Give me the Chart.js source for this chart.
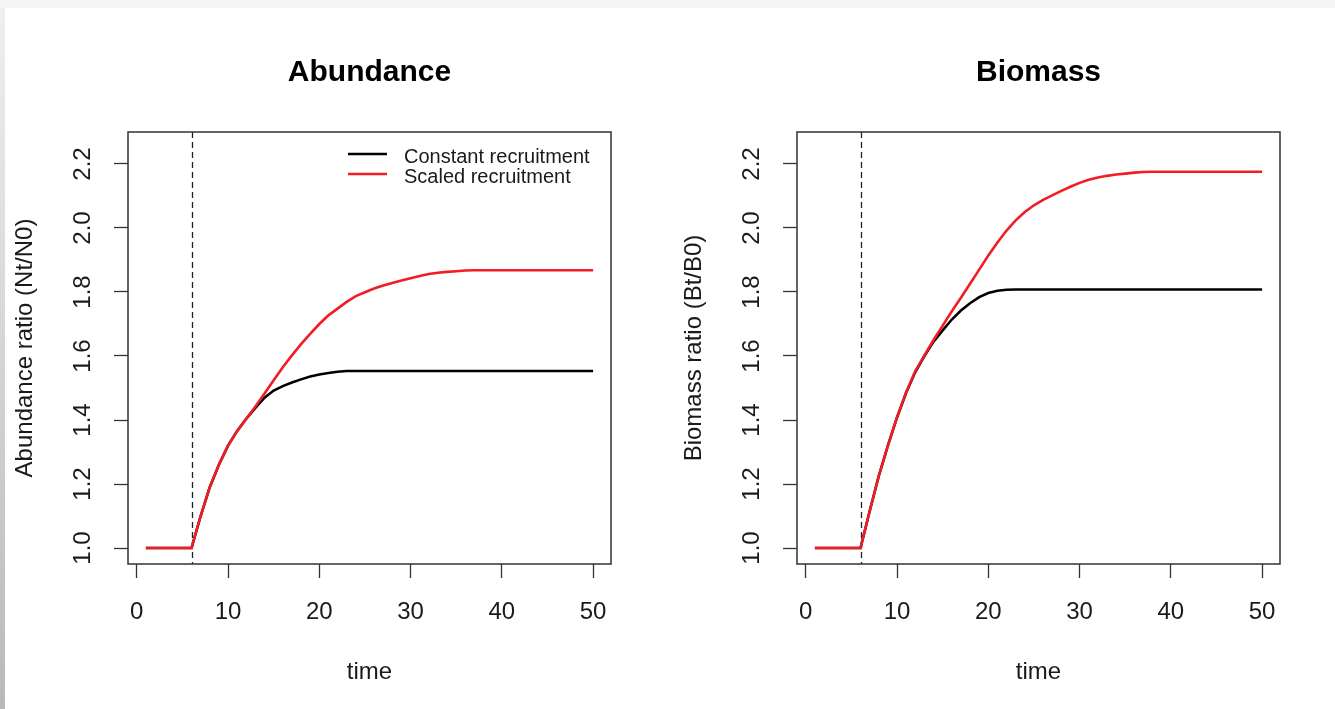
<!DOCTYPE html>
<html>
<head>
<meta charset="utf-8">
<script src="https://cdn.jsdelivr.net/npm/chart.js@4.4.1/dist/chart.umd.min.js"></script>
<style>
  html, body { margin: 0; padding: 0; }
  body { width: 1335px; height: 709px; position: relative; overflow: hidden; background: #f4f5f5; }
  #feuille { position: absolute; left: 5px; top: 8px; right: 0; bottom: 0; background: #fff; }
  #bord { position: absolute; left: 0; top: 8px; width: 5px; bottom: 0; background: linear-gradient(#eef0f0, #b9b9b9); }
  canvas { position: absolute; top: 0; }
  #abondance { left: 0; }
  #biomasse { left: 669px; }
</style>
</head>
<body>
<div id="feuille"></div><div id="bord"></div>
<canvas id="abondance" width="669" height="709"></canvas>
<canvas id="biomasse" width="666" height="709"></canvas>
<script>
// temps (années)
const time = [1, 2, 3, 4, 5, 6, 7, 8, 9, 10, 11, 12, 13, 14, 15, 16, 17, 18, 19, 20,
  21, 22, 23, 24, 25, 26, 27, 28, 29, 30, 31, 32, 33, 34, 35, 36, 37, 38, 39, 40,
  41, 42, 43, 44, 45, 46, 47, 48, 49, 50];

// Abondance (Nt/N0)
const abundConstant = [1, 1, 1, 1, 1, 1, 1.10, 1.19, 1.26, 1.32, 1.366, 1.404, 1.438, 1.470, 1.492, 1.506, 1.517, 1.527, 1.536, 1.542,
  1.547, 1.551, 1.553, 1.553, 1.553, 1.553, 1.553, 1.553, 1.553, 1.553, 1.553, 1.553, 1.553, 1.553, 1.553, 1.553, 1.553, 1.553, 1.553, 1.553,
  1.553, 1.553, 1.553, 1.553, 1.553, 1.553, 1.553, 1.553, 1.553, 1.553];
const abundScaled = [1, 1, 1, 1, 1, 1, 1.10, 1.19, 1.26, 1.32, 1.366, 1.404, 1.442, 1.483, 1.524, 1.565, 1.602, 1.637, 1.669, 1.700,
  1.727, 1.748, 1.769, 1.787, 1.799, 1.811, 1.820, 1.828, 1.836, 1.843, 1.850, 1.856, 1.860, 1.863, 1.865, 1.867, 1.868, 1.868, 1.868, 1.868,
  1.868, 1.868, 1.868, 1.868, 1.868, 1.868, 1.868, 1.868, 1.868, 1.868];

// Biomasse (Bt/B0)
const bioConstant = [1, 1, 1, 1, 1, 1, 1.115, 1.225, 1.320, 1.408, 1.485, 1.550, 1.600, 1.645, 1.680, 1.714, 1.742, 1.765, 1.784, 1.797,
  1.804, 1.807, 1.808, 1.808, 1.808, 1.808, 1.808, 1.808, 1.808, 1.808, 1.808, 1.808, 1.808, 1.808, 1.808, 1.808, 1.808, 1.808, 1.808, 1.808,
  1.808, 1.808, 1.808, 1.808, 1.808, 1.808, 1.808, 1.808, 1.808, 1.808];
const bioScaled = [1, 1, 1, 1, 1, 1, 1.115, 1.225, 1.320, 1.409, 1.487, 1.553, 1.602, 1.650, 1.695, 1.740, 1.782, 1.826, 1.870, 1.914,
  1.955, 1.992, 2.024, 2.050, 2.071, 2.088, 2.102, 2.116, 2.129, 2.141, 2.151, 2.158, 2.163, 2.167, 2.170, 2.173, 2.175, 2.176, 2.176, 2.176,
  2.176, 2.176, 2.176, 2.176, 2.176, 2.176, 2.176, 2.176, 2.176, 2.176];

const seriesLabels = ['Constant recruitment', 'Scaled recruitment'];
const xTicks = [0, 10, 20, 30, 40, 50];
const yTicks = [1.0, 1.2, 1.4, 1.6, 1.8, 2.0, 2.2];
const yTickLabels = ['1.0', '1.2', '1.4', '1.6', '1.8', '2.0', '2.2'];
const debutRecrutement = 6; // ligne pointillée

const POLICE = '"Liberation Sans", Arial, sans-serif';
const ROUGE = '#f21c24';
const GRIS = '#333';

// cadre, titre, étiquettes y tournées, légende
const panneauPlugin = {
  id: 'panneau',
  beforeDatasetsDraw(chart, args, opts) {
    const { ctx, chartArea: a } = chart;
    const xs = chart.scales.x;
    ctx.save();
    ctx.strokeStyle = '#222';
    ctx.lineWidth = 1.3;
    ctx.setLineDash([6, 4]);
    const xv = Math.round(xs.getPixelForValue(debutRecrutement)) + 0.5;
    ctx.beginPath();
    ctx.moveTo(xv, a.top);
    ctx.lineTo(xv, a.bottom);
    ctx.stroke();
    ctx.restore();
  },
  afterDraw(chart, args, opts) {
    const { ctx, chartArea: a } = chart;
    const ys = chart.scales.y;
    ctx.save();
    // cadre
    ctx.strokeStyle = GRIS;
    ctx.lineWidth = 1.5;
    ctx.strokeRect(a.left, a.top, a.right - a.left, a.bottom - a.top);

    // titre
    ctx.fillStyle = '#000';
    ctx.font = 'bold 30px ' + POLICE;
    ctx.textAlign = 'center';
    ctx.textBaseline = 'middle';
    ctx.fillText(opts.titre, (a.left + a.right) / 2, 73);

    // étiquettes de l'axe y (verticales, comme R)
    ctx.font = '24px ' + POLICE;
    ctx.fillStyle = '#1a1a1a';
    yTicks.forEach((v, i) => {
      ctx.save();
      ctx.translate(a.left - 45, ys.getPixelForValue(v));
      ctx.rotate(-Math.PI / 2);
      ctx.fillText(yTickLabels[i], 0, 0);
      ctx.restore();
    });

    // légende
    if (opts.legende) {
      const couleurs = ['#000', ROUGE];
      ctx.font = '20px ' + POLICE;
      ctx.textAlign = 'left';
      seriesLabels.forEach((lab, i) => {
        const y = a.top + 22 + i * 20;
        ctx.strokeStyle = couleurs[i];
        ctx.lineWidth = 2.6;
        ctx.beginPath();
        ctx.moveTo(a.right - 263, y);
        ctx.lineTo(a.right - 224, y);
        ctx.stroke();
        ctx.fillStyle = '#1a1a1a';
        ctx.fillText(lab, a.right - 207, y + 3);
      });
    }
    ctx.restore();
  }
};

const afficherPanneau = (id, titre, yTitre, constant, scaled, padDroite, legende) => {
  const font = { family: POLICE, size: 24 };
  const grille = { drawOnChartArea: false, drawTicks: true, tickLength: 14, tickColor: GRIS, tickWidth: 1.3 };
  new Chart(document.getElementById(id), {
    type: 'line',
    data: {
      datasets: [
        {
          label: seriesLabels[1],
          data: time.map((t, i) => ({ x: t, y: scaled[i] })),
          borderColor: ROUGE,
          borderWidth: 2.6,
          pointRadius: 0,
          tension: 0
        },
        {
          label: seriesLabels[0],
          data: time.map((t, i) => ({ x: t, y: constant[i] })),
          borderColor: '#000',
          borderWidth: 2.6,
          pointRadius: 0,
          tension: 0
        }
      ]
    },
    options: {
      responsive: false,
      animation: false,
      devicePixelRatio: 1,
      layout: { padding: { top: 132, right: padDroite, bottom: 0, left: 0 } },
      plugins: {
        legend: { display: false },
        tooltip: { enabled: false },
        panneau: { titre: titre, legende: legende }
      },
      scales: {
        x: {
          type: 'linear',
          min: -0.96,
          max: 51.96,
          afterFit: s => { s.height = 145; },
          afterBuildTicks: s => { s.ticks = xTicks.map(v => ({ value: v })); },
          grid: grille,
          border: { display: false },
          ticks: { font, color: '#1a1a1a', padding: 20, maxRotation: 0, autoSkip: false },
          title: { display: true, text: 'time', font, color: '#1a1a1a', padding: { bottom: 22 } }
        },
        y: {
          type: 'linear',
          min: 0.95,
          max: 2.30,
          afterFit: s => { s.width = 128; },
          afterBuildTicks: s => { s.ticks = yTicks.map(v => ({ value: v })); },
          grid: grille,
          border: { display: false },
          ticks: { display: false },
          title: { display: true, text: yTitre, font, color: '#1a1a1a', padding: { top: 11 } }
        }
      }
    },
    plugins: [panneauPlugin]
  });
};

afficherPanneau('abondance', 'Abundance', 'Abundance ratio (Nt/N0)', abundConstant, abundScaled, 58, true);
afficherPanneau('biomasse', 'Biomass', 'Biomass ratio (Bt/B0)', bioConstant, bioScaled, 55, false);
</script>
</body>
</html>
